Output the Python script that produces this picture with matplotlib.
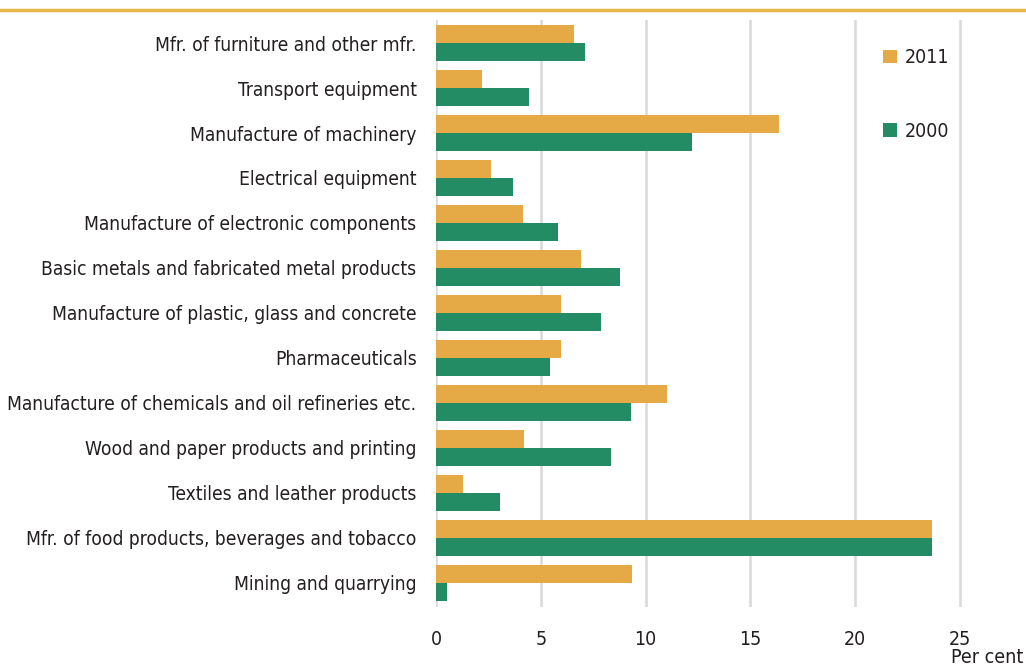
"""Industry shares by group, 2011 vs 2000."""
import numpy as np
import matplotlib
matplotlib.use('Agg')
import matplotlib.pyplot as plt
from matplotlib.lines import Line2D

categories = [
    'Mfr. of furniture and other mfr.',
    'Transport equipment',
    'Manufacture of machinery',
    'Electrical equipment',
    'Manufacture of electronic components',
    'Basic metals and fabricated metal products',
    'Manufacture of plastic, glass and concrete',
    'Pharmaceuticals',
    'Manufacture of chemicals and oil refineries etc.',
    'Wood and paper products and printing',
    'Textiles and leather products',
    'Mfr. of food products, beverages and tobacco',
    'Mining and quarrying',
]
values_2011 = [6.6, 2.2, 16.35, 2.6, 4.15, 6.9, 5.95, 5.95, 11.0, 4.2, 1.3, 23.65, 9.35]
values_2000 = [7.1, 4.45, 12.2, 3.65, 5.8, 8.8, 7.85, 5.45, 9.3, 8.35, 3.05, 23.65, 0.5]
xticks = [0, 5, 10, 15, 20, 25]

ORANGE = '#E5A945'
GREEN = '#238C65'
GRID = '#D9D9D9'
TEXT = '#231F20'

plt.rcParams['font.family'] = ['DejaVu Sans']
plt.rcParams['font.stretch'] = 'condensed'

fig = plt.figure(figsize=(10.26, 6.69), dpi=100)
ax = fig.add_axes([0.425, 0.093, 0.575, 0.877])

y = np.arange(len(categories))
h = 0.4
ax.barh(y - h / 2, values_2011, height=h, color=ORANGE, label='2011', zorder=3)
ax.barh(y + h / 2, values_2000, height=h, color=GREEN, label='2000', zorder=3)

ax.set_xlim(0, 28.15)
ax.set_ylim(12.53, -0.51)
ax.set_yticks(y)
ax.set_yticklabels(categories, fontsize=13.8, color=TEXT)
ax.set_xticks(xticks)
ax.set_xticklabels([str(t) for t in xticks], fontsize=14, color=TEXT)
ax.tick_params(length=0, axis='y', pad=14)
ax.tick_params(length=0, axis='x', pad=17)

for t in xticks:
    ax.axvline(t, color=GRID, lw=1.8, zorder=1)
for s in ax.spines.values():
    s.set_visible(False)

ax.legend(loc='upper left', bbox_to_anchor=(0.728, 0.982), frameon=False,
          fontsize=14, handlelength=0.7, handleheight=0.7, handletextpad=0.4,
          labelspacing=2.8, labelcolor=TEXT)

fig.text(0.997, 0.003, 'Per cent', ha='right', va='bottom', fontsize=14, color=TEXT)
fig.add_artist(Line2D([0, 1], [0.985, 0.985], transform=fig.transFigure,
                      color='#E8B84A', lw=2.5))

fig.savefig('out.png')
plt.close(fig)
